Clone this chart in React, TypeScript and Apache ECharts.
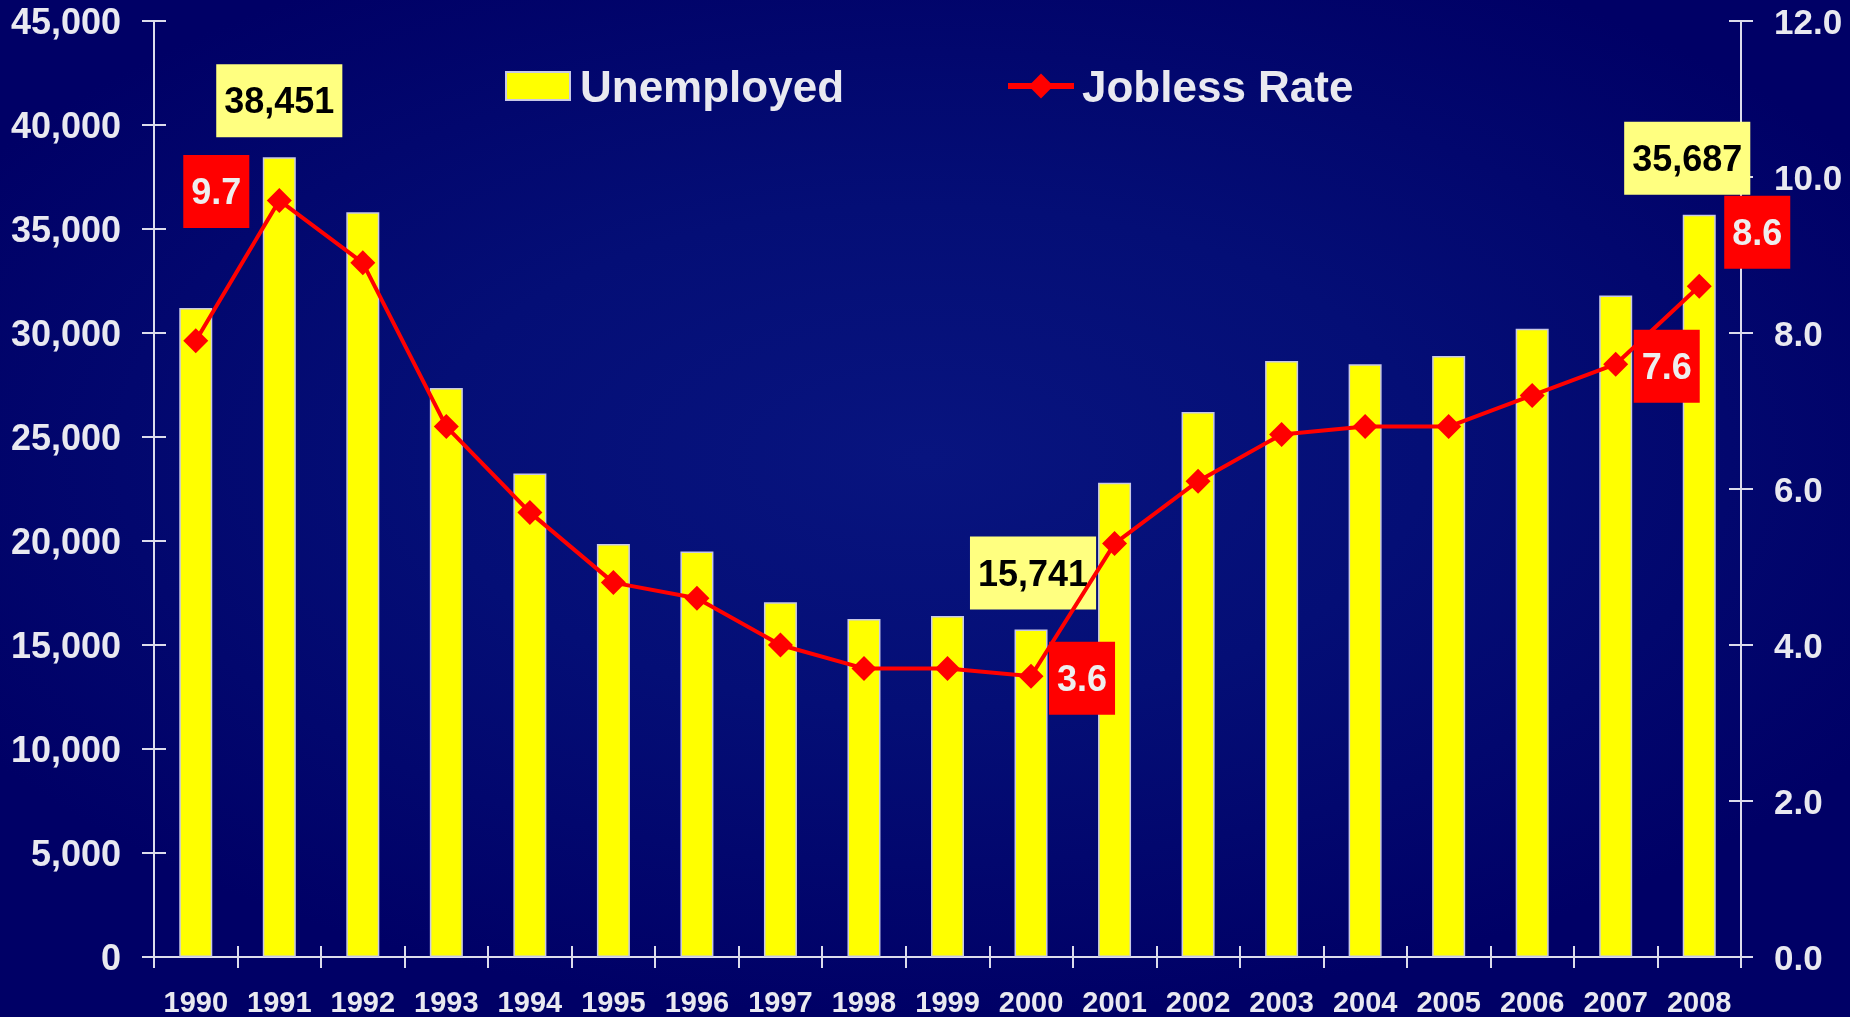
import React, { useEffect, useRef } from "react";
import * as echarts from "echarts";

const years = ["1990", "1991", "1992", "1993", "1994", "1995", "1996", "1997", "1998", "1999", "2000", "2001", "2002", "2003", "2004", "2005", "2006", "2007", "2008"];
const unemployed = [31200, 38451, 35800, 27350, 23250, 19850, 19500, 17050, 16250, 16400, 15741, 22800, 26200, 28650, 28500, 28900, 30200, 31800, 35687];
const joblessRate = [7.9, 9.7, 8.9, 6.8, 5.7, 4.8, 4.6, 4.0, 3.7, 3.7, 3.6, 5.3, 6.1, 6.7, 6.8, 6.8, 7.2, 7.6, 8.6];
const leftTicks = { min: 0, max: 45000, interval: 5000 };
const rightTicks = { min: 0, max: 12, interval: 2 };
const barLabelIdx = [1, 10, 18];
const rateLabelIdx = [1, 10, 17, 18];

const FONT = "'Liberation Sans', Arial, Helvetica, sans-serif";
const TXT = "#e9e9f0";
const AXIS = "#dcdcec";

const barOffsets: Record<number, [number, number]> = { 1: [0, 0], 10: [2, 0], 18: [-12, 0] };
const rateOffsets: Record<number, [number, number]> = { 1: [-63, -9], 10: [51, 2], 17: [51, 2], 18: [58, -54] };

export default function App() {
  const ref = useRef<HTMLDivElement>(null);
  useEffect(() => {
    if (!ref.current) return;
    const chart = echarts.init(ref.current, null, { renderer: "svg" });
    const barData = unemployed.map((v, i) =>
      barLabelIdx.includes(i)
        ? {
            value: v,
            label: {
              show: true,
              position: "top",
              distance: 20,
              offset: barOffsets[i],
              formatter: (p: any) => Number(p.value).toLocaleString("en-US"),
              backgroundColor: "#ffff80",
              color: "#000000",
              fontSize: 36,
              fontWeight: "bold",
              fontFamily: FONT,
              lineHeight: 37,
              padding: [18, 8, 18, 8],
            },
          }
        : v
    );
    const lineData = joblessRate.map((v, i) =>
      rateLabelIdx.includes(i)
        ? {
            value: v,
            label: {
              show: true,
              position: "inside",
              offset: rateOffsets[i],
              formatter: (p: any) => Number(p.value).toFixed(1),
              backgroundColor: "#ff0000",
              color: "#eeeeee",
              fontSize: 36,
              fontWeight: "bold",
              fontFamily: FONT,
              lineHeight: 37,
              padding: [18, 8, 18, 8],
            },
          }
        : v
    );
    const yBase = (pos: string, t: any, labels: boolean, inside: boolean, fmt: (v: number) => string, size: number) => ({
      type: "value",
      position: pos,
      min: t.min,
      max: t.max,
      interval: t.interval,
      splitLine: { show: false },
      axisLine: { show: labels, lineStyle: { color: AXIS, width: 2 } },
      axisTick: { show: true, inside, length: 12, lineStyle: { color: AXIS, width: 2 } },
      axisLabel: {
        show: labels,
        margin: 33,
        color: TXT,
        fontSize: size,
        fontWeight: "bold",
        fontFamily: FONT,
        formatter: fmt,
      },
    });
    const xBase = (labels: boolean, inside: boolean) => ({
      type: "category",
      data: years,
      position: "bottom",
      boundaryGap: true,
      axisLine: { show: labels, lineStyle: { color: AXIS, width: 2 } },
      axisTick: { show: true, inside, length: 11, lineStyle: { color: AXIS, width: 2 } },
      axisLabel: {
        show: labels,
        interval: 0,
        margin: 30,
        color: TXT,
        fontSize: 29,
        fontWeight: "bold",
        fontFamily: FONT,
      },
    });
    const legendText = (pad: number) => ({ color: TXT, fontSize: 44, fontWeight: "bold", fontFamily: FONT, padding: [0, 0, 0, pad] });
    chart.setOption({
      animation: false,
      backgroundColor: "transparent",
      grid: { left: 154, right: 109, top: 21, bottom: 60, containLabel: false },
      legend: [
        {
          left: 500,
          top: 59,
          itemWidth: 64,
          itemHeight: 28,
          data: [{ name: "Unemployed", icon: "rect" }],
          textStyle: legendText(5),
        },
        {
          left: 1000,
          top: 59,
          itemWidth: 66,
          itemHeight: 31,
          data: ["Jobless Rate"],
          lineStyle: { width: 6, color: "#ff0000" },
          itemStyle: { color: "#ff0000" },
          textStyle: legendText(3),
        },
      ],
      xAxis: [xBase(true, false), xBase(false, true)],
      yAxis: [
        yBase("left", leftTicks, true, false, (v: number) => v.toLocaleString("en-US"), 36),
        yBase("right", rightTicks, true, false, (v: number) => v.toFixed(1), 35),
        yBase("left", leftTicks, false, true, (v: number) => String(v), 36),
        yBase("right", rightTicks, false, true, (v: number) => String(v), 35),
      ],
      series: [
        {
          name: "Unemployed",
          type: "bar",
          xAxisIndex: 0,
          yAxisIndex: 0,
          barWidth: 33,
          data: barData,
          itemStyle: { color: "#ffff00", borderColor: "#c8c8e6", borderWidth: 1.5 },
          z: 2,
        },
        {
          name: "Jobless Rate",
          type: "line",
          xAxisIndex: 0,
          yAxisIndex: 1,
          data: lineData,
          symbol: "diamond",
          symbolSize: 25,
          lineStyle: { color: "#ff0000", width: 4 },
          itemStyle: { color: "#ff0000" },
          z: 3,
        },
      ],
    });
    return () => chart.dispose();
  }, []);
  return (
    <div
      style={{
        position: "fixed",
        left: 0,
        top: 0,
        width: 1850,
        height: 1017,
        background: "radial-gradient(ellipse 60% 55% at 50% 45%, #08147f 0%, #040e76 45%, #000066 100%)",
      }}
    >
      <div ref={ref} style={{ width: 1850, height: 1017 }} />
    </div>
  );
}
